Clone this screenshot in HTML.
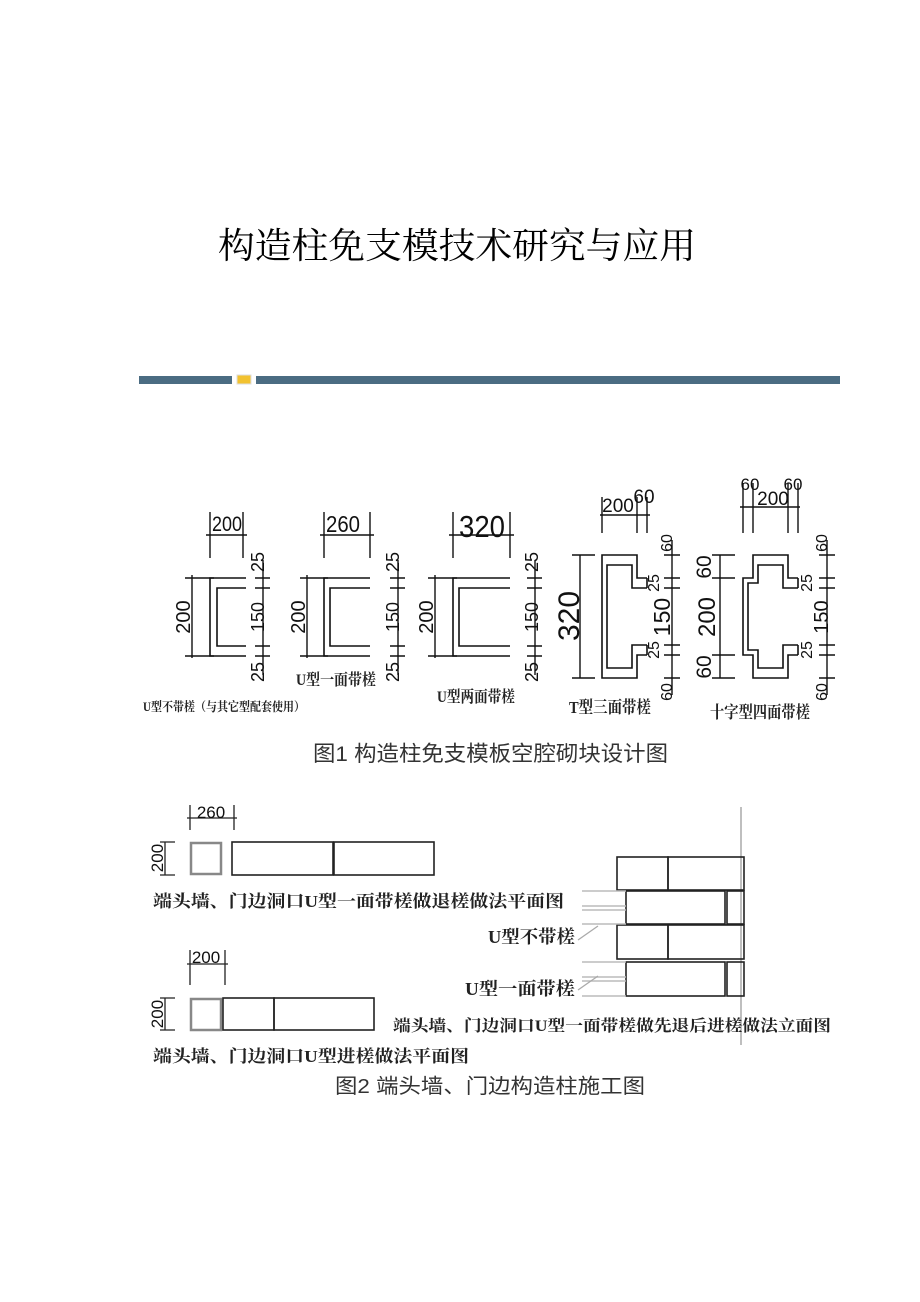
<!DOCTYPE html>
<html><head><meta charset="utf-8"><style>
html,body{margin:0;padding:0;background:#fff;}
svg{display:block;}
.cj{font-family:"Liberation Serif","Noto Serif CJK SC",serif;}
.cs{font-family:"Liberation Sans","Noto Sans CJK SC",sans-serif;}
.d{font-family:"Liberation Sans",sans-serif;fill:#111;}
.lb{font-family:"Liberation Serif","Noto Serif CJK SC",serif;font-weight:bold;fill:#222;}
</style></head><body>
<svg width="920" height="1302" viewBox="0 0 920 1302" xmlns="http://www.w3.org/2000/svg">
<text x="218" y="258" class="cj" font-size="36" fill="#000" textLength="478" lengthAdjust="spacingAndGlyphs">构造柱免支模技术研究与应用</text>
<!-- bar -->
<rect x="139" y="376" width="93" height="8" fill="#4b6c82"/>
<rect x="237" y="375" width="14" height="9" fill="#f2c230" stroke="#ddd" stroke-width="1"/>
<rect x="256" y="376" width="584" height="8" fill="#4b6c82"/>

<g stroke="#111" fill="none" stroke-width="1.4">
<!-- U1 -->
<path d="M210,512V558M243,512V558M206,535H247"/>
<path d="M246,578H210V656H246M246,588H217V646H246" stroke-width="1.6"/>
<path d="M192,575V658M185,578H214M185,656H214"/>
<path d="M263,560V675M255,578H270M255,588H270M255,646H270M255,656H270"/>
<!-- U2 -->
<path d="M324,512V558M370,512V558M320,535H374"/>
<path d="M370,578H324V656H370M370,588H330V646H370" stroke-width="1.6"/>
<path d="M307,575V658M300,578H328M300,656H328"/>
<path d="M398,560V675M390,578H405M390,588H405M390,646H405M390,656H405"/>
<!-- U3 -->
<path d="M453,512V558M510,512V558M449,535H514"/>
<path d="M510,578H453V656H510M510,588H459V646H510" stroke-width="1.6"/>
<path d="M435,575V658M428,578H457M428,656H457"/>
<path d="M535,560V675M527,578H542M527,588H542M527,646H542M527,656H542"/>
<!-- T -->
<path d="M602,497V533M637,497V533M647,497V533M600,515H650"/>
<path d="M647,578H637V555H602V678H637V655H647M647,588H632V565H607V668H632V645H647M647,578V588M647,645V655" stroke-width="1.6"/>
<path d="M580,555V678M572,555H595M572,678H595"/>
<path d="M672,540V695M664,555H680M664,578H680M664,588H680M664,645H680M664,655H680M664,678H680"/>
<!-- cross -->
<path d="M743,483V533M753,483V533M788,483V533M798,483V533M740,507H800"/>
<path d="M798,578H788V555H753V578H743V655H753V678H788V655H798M798,588H783V565H758V583H748V650H758V668H783V645H798M798,578V588M798,645V655" stroke-width="1.6"/>
<path d="M720,555V678M712,555H735M712,578H735M712,655H735M712,678H735"/>
<path d="M827,540V695M819,555H835M819,578H835M819,588H835M819,645H835M819,655H835M819,678H835"/>
</g>
<!-- dim texts fig1 -->
<g class="d">
<text x="227" y="531" font-size="21" text-anchor="middle" textLength="30" lengthAdjust="spacingAndGlyphs">200</text>
<text x="343" y="532" font-size="23" text-anchor="middle" textLength="34" lengthAdjust="spacingAndGlyphs">260</text>
<text x="482" y="537" font-size="31" text-anchor="middle" textLength="46" lengthAdjust="spacingAndGlyphs">320</text>
<text font-size="20" text-anchor="middle" transform="translate(190,617) rotate(-90)">200</text>
<text font-size="20" text-anchor="middle" transform="translate(305,617) rotate(-90)">200</text>
<text font-size="20" text-anchor="middle" transform="translate(433,617) rotate(-90)">200</text>
<g font-size="18" text-anchor="middle">
<text transform="translate(264,562) rotate(-90)">25</text>
<text transform="translate(264,617) rotate(-90)">150</text>
<text transform="translate(264,672) rotate(-90)">25</text>
<text transform="translate(399,562) rotate(-90)">25</text>
<text transform="translate(399,617) rotate(-90)">150</text>
<text transform="translate(399,672) rotate(-90)">25</text>
<text transform="translate(538,562) rotate(-90)">25</text>
<text transform="translate(538,617) rotate(-90)">150</text>
<text transform="translate(538,672) rotate(-90)">25</text>
</g>
<text x="618" y="512" font-size="19" text-anchor="middle">200</text>
<text x="644" y="503" font-size="19" text-anchor="middle">60</text>
<text transform="translate(579,616) rotate(-90)" font-size="30" text-anchor="middle">320</text>
<g font-size="16" text-anchor="middle">
<text transform="translate(672,543) rotate(-90)">60</text>
<text transform="translate(659,583) rotate(-90)">25</text>
<text transform="translate(670,617) rotate(-90)" font-size="23">150</text>
<text transform="translate(659,650) rotate(-90)">25</text>
<text transform="translate(672,692) rotate(-90)">60</text>
<text x="750" y="490" font-size="17">60</text>
<text x="773" y="505" font-size="19">200</text>
<text x="793" y="490" font-size="17">60</text>
<text transform="translate(827,543) rotate(-90)">60</text>
<text transform="translate(812,583) rotate(-90)">25</text>
<text transform="translate(828,617) rotate(-90)" font-size="20">150</text>
<text transform="translate(812,650) rotate(-90)">25</text>
<text transform="translate(827,692) rotate(-90)">60</text>
<text transform="translate(711,567) rotate(-90)" font-size="21">60</text>
<text transform="translate(715,617) rotate(-90)" font-size="24">200</text>
<text transform="translate(711,667) rotate(-90)" font-size="21">60</text>
</g>
</g>
<g class="lb">
<text x="143" y="711" font-size="12.5" textLength="162" lengthAdjust="spacingAndGlyphs">U型不带槎（与其它型配套使用）</text>
<text x="296" y="685" font-size="16" textLength="80" lengthAdjust="spacingAndGlyphs">U型一面带槎</text>
<text x="437" y="702" font-size="16" textLength="78" lengthAdjust="spacingAndGlyphs">U型两面带槎</text>
<text x="569" y="713" font-size="17" textLength="82" lengthAdjust="spacingAndGlyphs">T型三面带槎</text>
<text x="710" y="718" font-size="17" textLength="100" lengthAdjust="spacingAndGlyphs">十字型四面带槎</text>
</g>
<text x="313" y="761" class="cs" font-size="21.5" fill="#333" textLength="355" lengthAdjust="spacingAndGlyphs">图1 构造柱免支模板空腔砌块设计图</text>

<!-- fig2 -->
<g stroke="#222" fill="none" stroke-width="1.3">
<path d="M190,805V830M234,805V830M187,818H237"/>
<rect x="191" y="843" width="30" height="31" stroke="#888" stroke-width="2.5"/>
<rect x="232" y="842" width="101" height="33" stroke-width="1.6"/>
<rect x="334" y="842" width="100" height="33" stroke-width="1.6"/>
<path d="M165,842V875M160,842H175M160,875H175"/>
<path d="M190,950V985M225,950V985M187,964H228"/>
<rect x="191" y="999" width="30" height="31" stroke="#888" stroke-width="2.5"/>
<rect x="223" y="998" width="51" height="32" stroke-width="1.6"/>
<rect x="274" y="998" width="100" height="32" stroke-width="1.6"/>
<path d="M165,998V1030M160,998H175M160,1030H175"/>
<!-- elevation -->
<path d="M741,807V1045" stroke="#aaa" stroke-width="1.5"/>
<rect x="617" y="857" width="51" height="33" stroke-width="1.6"/>
<rect x="668" y="857" width="76" height="33" stroke-width="1.6"/>
<rect x="626" y="891" width="99" height="33" stroke-width="1.6"/>
<rect x="727" y="891" width="17" height="33" stroke-width="1.6"/>
<rect x="617" y="925" width="51" height="34" stroke-width="1.6"/>
<rect x="668" y="925" width="76" height="34" stroke-width="1.6"/>
<rect x="626" y="962" width="99" height="34" stroke-width="1.6"/>
<rect x="727" y="962" width="17" height="34" stroke-width="1.6"/>
<path d="M582,891H626M582,906H626M582,910H626M582,924H626M582,962H626M582,977H626M582,981H626M582,996H626" stroke="#bbb" stroke-width="1.5"/>
<path d="M578,940L598,926M578,990L598,976" stroke="#aaa"/>
</g>
<g class="lb">
<text x="153" y="907" font-size="17" textLength="411" lengthAdjust="spacingAndGlyphs">端头墙、门边洞口U型一面带槎做退槎做法平面图</text>
<text x="153" y="1062" font-size="17" textLength="316" lengthAdjust="spacingAndGlyphs">端头墙、门边洞口U型进槎做法平面图</text>
<text x="488" y="943" font-size="18" textLength="87" lengthAdjust="spacingAndGlyphs">U型不带槎</text>
<text x="465" y="995" font-size="18" textLength="110" lengthAdjust="spacingAndGlyphs">U型一面带槎</text>
<text x="393" y="1031" font-size="16" textLength="438" lengthAdjust="spacingAndGlyphs">端头墙、门边洞口U型一面带槎做先退后进槎做法立面图</text>
</g>
<g class="d" font-size="17" text-anchor="middle">
<text x="211" y="818">260</text>
<text x="206" y="963">200</text>
<text transform="translate(163,858) rotate(-90)">200</text>
<text transform="translate(163,1014) rotate(-90)">200</text>
</g>
<text x="335" y="1093" class="cs" font-size="20.5" fill="#333" textLength="310" lengthAdjust="spacingAndGlyphs">图2 端头墙、门边构造柱施工图</text>
</svg>
</body></html>
